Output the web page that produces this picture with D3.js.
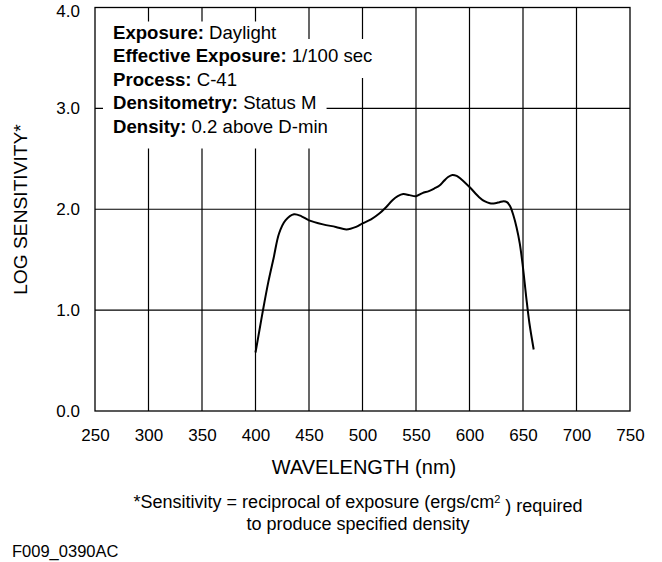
<!DOCTYPE html>
<html>
<head>
<meta charset="utf-8">
<script src="https://cdn.jsdelivr.net/npm/d3@7"></script>
<style>
  body { margin: 0; background: #fff; }
  text { font-family: "Liberation Sans", Arial, Helvetica, sans-serif; fill: #000; }
</style>
</head>
<body>
<div id="grafica"></div>
<script>
// spectral sensitivity curve
var wavelength = [400, 404, 407, 412, 417, 422, 428, 436, 443, 450, 463, 475, 485, 494, 500,
                  508, 516, 522, 528, 533, 538, 544, 550, 556, 562, 567, 572, 576, 580, 584,
                  588, 592, 600, 609, 614, 619, 624, 628, 632, 635, 638, 641, 644, 647, 650,
                  653, 656, 660];
var logSens = [0.58, 0.82, 1.00, 1.28, 1.52, 1.76, 1.89, 1.95, 1.93, 1.89, 1.85, 1.825, 1.80, 1.825, 1.86,
               1.90, 1.96, 2.02, 2.09, 2.13, 2.15, 2.14, 2.13, 2.16, 2.18, 2.205, 2.235, 2.28, 2.32, 2.34,
               2.33, 2.30, 2.22, 2.12, 2.08, 2.06, 2.06, 2.07, 2.08, 2.07, 2.03, 1.94, 1.82, 1.66, 1.42,
               1.13, 0.87, 0.61];

var xTicks = [250, 300, 350, 400, 450, 500, 550, 600, 650, 700, 750];
var yTicks = [0, 1, 2, 3, 4];

var legendKeys = ["Exposure:", "Effective Exposure:", "Process:", "Densitometry:", "Density:"];
var legendValues = ["Daylight", "1/100 sec", "C-41", "Status M", "0.2 above D-min"];

var margin = {top: 7.5, right: 32, bottom: 151, left: 95},
    width = 662 - margin.left - margin.right,
    height = 562 - margin.top - margin.bottom;

var svg = d3.select("#grafica")
  .append("svg")
  .attr("width", 662)
  .attr("height", 562)
  .append("g")
  .attr("transform", `translate(${margin.left},${margin.top})`);

var x = d3.scaleLinear().domain([250, 750]).range([0, width]);
var y = d3.scaleLinear().domain([0, 4]).range([height, 0]);

// grid
svg.append("g")
  .selectAll("line")
  .data(xTicks.slice(1, -1))
  .join("line")
    .attr("x1", d => x(d)).attr("x2", d => x(d))
    .attr("y1", 0).attr("y2", height)
    .attr("stroke", "#000").attr("stroke-width", 1.2);

svg.append("g")
  .selectAll("line")
  .data(yTicks.slice(1, -1))
  .join("line")
    .attr("x1", 0).attr("x2", width)
    .attr("y1", d => y(d)).attr("y2", d => y(d))
    .attr("stroke", "#000").attr("stroke-width", 1.2);

// frame
svg.append("rect")
  .attr("width", width).attr("height", height)
  .attr("fill", "none").attr("stroke", "#000").attr("stroke-width", 1.3);

// axes (labels only)
var xAxis = svg.append("g")
  .attr("transform", `translate(0, ${height})`)
  .call(d3.axisBottom(x).tickValues(xTicks).tickSize(0).tickPadding(18).tickFormat(d3.format("d")));
xAxis.select(".domain").remove();
xAxis.selectAll("text").style("font-size", "17px").style("font-family", null);

var yAxis = svg.append("g")
  .call(d3.axisLeft(y).tickValues(yTicks).tickSize(0).tickPadding(15).tickFormat(d3.format(".1f")));
yAxis.select(".domain").remove();
yAxis.selectAll("text")
  .style("font-size", "17px").style("font-family", null)
  .attr("dy", d => d === 4 ? "0.55em" : "0.32em");

// axis titles
svg.append("text")
  .attr("x", 269)
  .attr("y", height + 63)
  .style("text-anchor", "middle")
  .style("font-size", "20px")
  .text("WAVELENGTH (nm)");

svg.append("text")
  .attr("transform", "rotate(-90)")
  .attr("x", 0 - 202)
  .attr("y", 0 - margin.left + 27)
  .style("text-anchor", "middle")
  .style("font-size", "19.2px")
  .text("LOG SENSITIVITY*");

// legend: white boxes behind the lines knock the grid out
var legend = svg.append("g");
var bgLayer = legend.append("g");
var txtLayer = legend.append("g");
var ends = [];
legendKeys.forEach(function(k, i) {
  var base = 31 + i * 23.5;
  var t = txtLayer.append("text")
    .attr("x", 18)
    .attr("y", base)
    .style("font-size", "18.6px");
  t.append("tspan").style("font-weight", "bold").text(k + " ");
  t.append("tspan").text(legendValues[i]);
  var bb = t.node().getBBox();
  ends.push(bb.x + bb.width + 10);
});
ends.forEach(function(e, i) {
  var base = 31 + i * 23.5;
  // short lines sitting between two long ones get the narrower neighbour's width
  var right = (i > 0 && i < ends.length - 1) ? Math.max(e, Math.min(ends[i - 1], ends[i + 1])) : e;
  var top = i ? base - 23 : base - 17;
  bgLayer.append("rect")
    .attr("fill", "#fff")
    .attr("x", 8).attr("y", top)
    .attr("width", right - 8)
    .attr("height", base + 16 - top);
});

// the curve
var pts = wavelength.map((w, i) => [w, logSens[i]]);
svg.append("path")
  .datum(pts)
  .attr("fill", "none")
  .attr("stroke", "#000")
  .attr("stroke-width", 2)
  .attr("stroke-linejoin", "round")
  .attr("d", d3.line()
    .x(d => x(d[0]))
    .y(d => y(d[1]))
    .curve(d3.curveCatmullRom.alpha(0.5)));

// footnote
var foot = svg.append("text")
  .attr("x", 263)
  .attr("y", height + 97)
  .style("text-anchor", "middle")
  .style("font-size", "18px");
foot.append("tspan").text("*Sensitivity = reciprocal of exposure (ergs/cm");
foot.append("tspan").attr("dy", "-0.5em").style("font-size", "11px").text("2");
foot.append("tspan").attr("dy", "0.5em").text(" ) required");

svg.append("text")
  .attr("x", 263)
  .attr("y", height + 119)
  .style("text-anchor", "middle")
  .style("font-size", "18px")
  .text("to produce specified density");

svg.append("text")
  .attr("x", 12 - margin.left)
  .attr("y", height + 146)
  .style("font-size", "16.5px")
  .text("F009_0390AC");
</script>
</body>
</html>
